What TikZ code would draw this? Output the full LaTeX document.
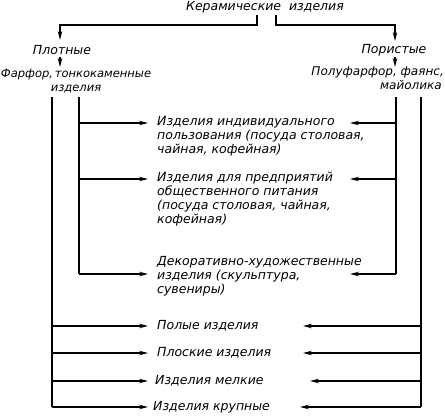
\documentclass[tikz,border=0pt]{standalone}
\usepackage{fontspec}
\setmainfont{DejaVu Sans}
\usetikzlibrary{arrows.meta}
\tikzset{
  lbl/.style={font=\itshape\fontsize{12.5}{14}\selectfont, inner sep=0pt, align=left},
  arr/.style={-{Stealth[length=9pt,width=4.5pt]}, line width=1.1pt},
  ln/.style={line width=1.1pt}
}
\begin{document}
\begin{tikzpicture}[x=1pt,y=-1pt]
\useasboundingbox (0,0) rectangle (445,419);
\node[lbl] (t) at (265,7) {Керамические\ \ изделия};
\node[lbl] (pl) at (62,50) {Плотные};
\node[lbl] (po) at (394,50) {Пористые};
\node[lbl, align=center, font=\itshape\fontsize{11.5}{14}\selectfont] (ff) at (76,81) {Фарфор,\,тонкокаменные\\изделия};
\node[lbl, align=right, anchor=north east, font=\itshape\fontsize{12}{14}\selectfont] (pf) at (444,67) {Полуфарфор, фаянс,\\майолика\,};
% texts
\node[lbl, anchor=north west] (a1) at (157,116) {Изделия индивидуального\\пользования (посуда столовая,\\чайная, кофейная)};
\node[lbl, anchor=north west] (a2) at (157,172) {Изделия для предприятий\\общественного питания\\(посуда столовая, чайная,\\кофейная)};
\node[lbl, anchor=north west] (a3) at (157,256) {Декоративно-художественные\\изделия (скульптура,\\сувениры)};
\node[lbl, anchor=west] (b1) at (157,326) {Полые изделия};
\node[lbl, anchor=west] (b2) at (157,353) {Плоские изделия};
\node[lbl, anchor=west] (b3) at (155,381) {Изделия мелкие};
\node[lbl, anchor=west] (b4) at (153,407) {Изделия крупные};
% top connectors
\draw[arr] (257,15) -- (257,25) -- (60,25) -- (60,40);
\draw[arr] (276,15) -- (276,25) -- (395,25) -- (395,41);
\draw[arr] (60,57) -- (60,67);
\draw[arr] (395,57) -- (395,67);
\coordinate (li) at (79,97);
\coordinate (lo) at (52,97);
\coordinate (ri) at (396,97);
\coordinate (ro) at (421,97);
% left inner
\draw[ln] (li) -- (79,274);
\draw[arr] (79,274) -- (148,274);
\draw[arr] (79,123) -- (148,123);
\draw[arr] (79,179) -- (148,179);
% left outer
\draw[ln] (lo) -- (52,407);
\draw[arr] (52,407) -- (148,407);
\draw[arr] (52,326) -- (148,326);
\draw[arr] (52,353) -- (148,353);
\draw[arr] (52,381) -- (148,381);
% right
\draw[ln] (ri) -- (396,274);
\draw[arr] (396,274) -- (350,274);
\draw[arr] (396,123) -- (350,123);
\draw[arr] (396,179) -- (350,179);
\draw[ln] (ro) -- (421,407);
\draw[arr] (421,407) -- (300,407);
\draw[arr] (421,326) -- (303,326);
\draw[arr] (421,353) -- (303,353);
\draw[arr] (421,381) -- (310,381);
\end{tikzpicture}
\end{document}
